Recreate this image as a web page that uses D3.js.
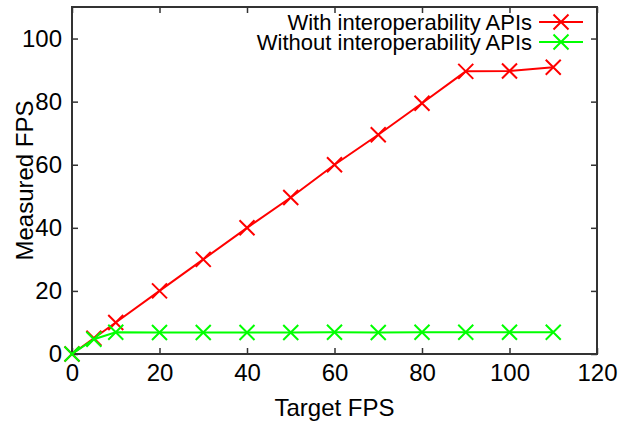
<!DOCTYPE html>
<html>
<head>
<meta charset="utf-8">
<script src="https://cdn.jsdelivr.net/npm/d3@7"></script>
<style>
  body { margin: 0; background: #fff; }
  svg text { font-family: "Liberation Sans", Arial, sans-serif; fill: #000; }
</style>
</head>
<body>
<div id="chart"></div>
<script>
let width = 634;
let height = 423;
let margin = ({top: 7, right: 37, bottom: 69, left: 72});

// data
let targetFps = [0, 5, 10, 20, 30, 40, 50, 60, 70, 80, 90, 100, 110];
let withApis = [0, 5, 10, 20, 30, 40, 49.6, 60, 69.5, 79.5, 89.6, 89.7, 90.9];
let withoutApis = [0, 4.7, 6.9, 6.8, 6.8, 6.8, 6.8, 6.9, 6.8, 6.9, 6.9, 6.9, 6.9];
let xTicks = [0, 20, 40, 60, 80, 100, 120];
let yTicks = [0, 20, 40, 60, 80, 100];
let seriesNames = ["With interoperability APIs", "Without interoperability APIs"];
let seriesColors = ["#ff0000", "#00ff00"];

let svg = d3.select("#chart")
    .append("svg")
    .attr("width", width)
    .attr("height", height);

let xScale = d3.scaleLinear()
    .domain([0, 120])
    .range([margin.left, width - margin.right]);

let yScale = d3.scaleLinear()
    .domain([0, 110])
    .range([height - margin.bottom, margin.top]);

let tickLen = 6;

// axes, ticks pointing inward, mirrored on top and right
svg.append("g")
    .attr("transform", "translate(0," + (height - margin.bottom) + ")")
    .call(d3.axisBottom(xScale).tickValues(xTicks).tickSizeInner(-tickLen).tickSizeOuter(0).tickPadding(10))
    .call(g => g.select(".domain").remove());

svg.append("g")
    .attr("transform", "translate(0," + margin.top + ")")
    .call(d3.axisTop(xScale).tickValues(xTicks).tickSizeInner(-tickLen).tickSizeOuter(0).tickFormat(""))
    .call(g => g.select(".domain").remove());

svg.append("g")
    .attr("transform", "translate(" + margin.left + ",0)")
    .call(d3.axisLeft(yScale).tickValues(yTicks).tickSizeInner(-tickLen).tickSizeOuter(0).tickPadding(10))
    .call(g => g.select(".domain").remove());

svg.append("g")
    .attr("transform", "translate(" + (width - margin.right) + ",0)")
    .call(d3.axisRight(yScale).tickValues(yTicks).tickSizeInner(-tickLen).tickSizeOuter(0).tickFormat(""))
    .call(g => g.select(".domain").remove());

svg.selectAll(".tick line").attr("stroke", "#333").attr("stroke-width", 1.5);
svg.selectAll(".tick text")
    .attr("font-size", 24)
    .attr("font-family", "Liberation Sans, Arial, sans-serif")
    .attr("fill", "#000");

// frame
svg.append("rect")
    .attr("x", margin.left)
    .attr("y", margin.top)
    .attr("width", width - margin.left - margin.right)
    .attr("height", height - margin.top - margin.bottom)
    .attr("fill", "none")
    .attr("stroke", "#333")
    .attr("stroke-width", 2);

// axis titles
svg.append("text")
    .attr("x", (margin.left + width - margin.right) / 2)
    .attr("y", 416)
    .attr("text-anchor", "middle")
    .attr("font-size", 24)
    .text("Target FPS");

svg.append("text")
    .attr("transform", "translate(33," + ((margin.top + height - margin.bottom) / 2) + ") rotate(-90)")
    .attr("text-anchor", "middle")
    .attr("font-size", 24)
    .text("Measured FPS");

// x-shaped point marker
function cross(sel, color, s) {
    sel.append("path")
        .attr("d", `M${-s},${-s}L${s},${s}M${-s},${s}L${s},${-s}`)
        .attr("stroke", color)
        .attr("stroke-width", 2)
        .attr("fill", "none");
}

let line = d3.line()
    .x(d => xScale(d[0]))
    .y(d => yScale(d[1]));

[withApis, withoutApis].forEach(function(values, i) {
    let pts = targetFps.map((t, j) => [t, values[j]]);
    svg.append("path")
        .datum(pts)
        .attr("d", line)
        .attr("fill", "none")
        .attr("stroke", seriesColors[i])
        .attr("stroke-width", 2);
    svg.selectAll(".pt" + i)
        .data(pts)
        .enter()
        .append("g")
        .attr("class", "pt" + i)
        .attr("transform", d => "translate(" + xScale(d[0]) + "," + yScale(d[1]) + ")")
        .each(function() { cross(d3.select(this), seriesColors[i], 7.5); });
});

// legend, top right
let legend = svg.append("g");
seriesNames.forEach(function(name, i) {
    let y = 22 + i * 20;
    legend.append("text")
        .attr("x", 532)
        .attr("y", y + 7.5)
        .attr("text-anchor", "end")
        .attr("font-size", 22)
        .text(name);
    legend.append("line")
        .attr("x1", 539).attr("x2", 583)
        .attr("y1", y).attr("y2", y)
        .attr("stroke", seriesColors[i])
        .attr("stroke-width", 2);
    legend.append("g")
        .attr("transform", "translate(561," + y + ")")
        .call(cross, seriesColors[i], 7.5);
});
</script>
</body>
</html>
